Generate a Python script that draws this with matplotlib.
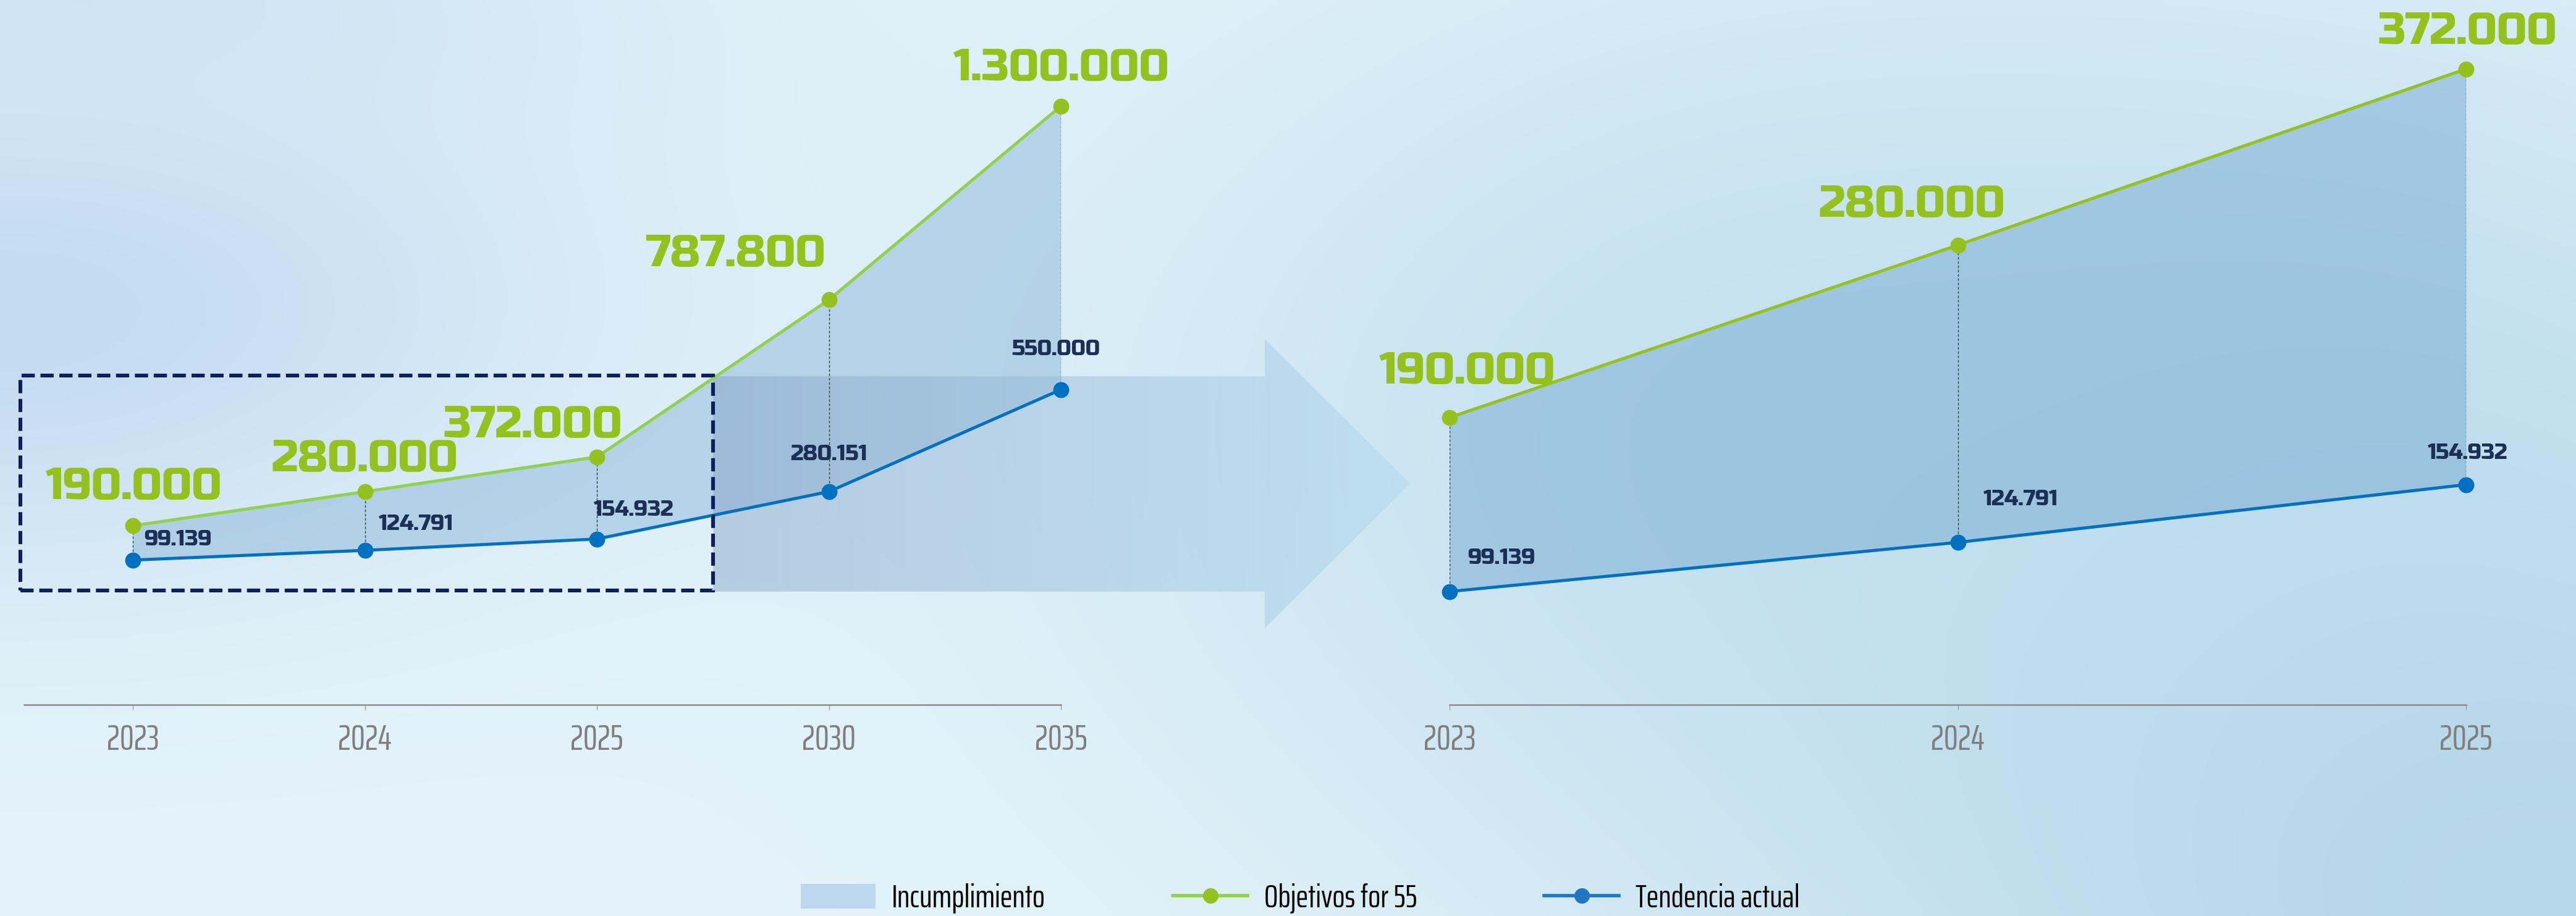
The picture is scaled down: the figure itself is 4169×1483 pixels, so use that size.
import numpy as np
import matplotlib
matplotlib.use("Agg")
import matplotlib.pyplot as plt
from matplotlib.patches import Polygon, Rectangle, Patch
from matplotlib.lines import Line2D


# datos: vista completa y detalle 2023-2025
years_full = ["2023", "2024", "2025", "2030", "2035"]
objetivos_full = [190000, 280000, 372000, 787800, 1300000]
tendencia_full = [99139, 124791, 154932, 280151, 550000]

years_zoom = ["2023", "2024", "2025"]
objetivos_zoom = [190000, 280000, 372000]
tendencia_zoom = [99139, 124791, 154932]

legend_labels = ["Incumplimiento", "Objetivos for 55", "Tendencia actual"]

# label offsets in points (dx, dy) and alignment
green_off_full = [(0, 15.5), (0, 12), (-37.4, 11.5), (-54.4, 19.4), (0, 15)]
blue_off_full = [(6.5, 8.5, "left"), (8, 12, "left"), (-1.8, 13.7, "left"),
                 (0, 18.5, "center"), (-3, 20, "center")]
green_off_zoom = [(10, 19.8), (-26.6, 16.5), (1, 14.8)]
blue_off_zoom = [(10.4, 16.2, "left"), (15, 21.6, "left"), (1, 15, "center")]

GREEN = "#95c11f"
GREEN_LIGHT = "#92d050"
BLUE = "#0070c0"
NAVY = "#1c2f55"
FILL = "#79abd2"
AXIS_GRAY = "#8c8c8c"
NARROW = ["Saira ExtraCondensed", "DejaVu Sans"]
DISPLAY = ["Russo One", "DejaVu Sans"]
W, H, DPI = 4169, 1483, 200


def fmt(v):
    return f"{v:,}".replace(",", ".")


def background(fig):
    bg = fig.add_axes([0, 0, 1, 1], zorder=-10)
    nx, ny = 420, 150
    xx, yy = np.meshgrid(np.linspace(0, 1, nx), np.linspace(0, 1, ny))
    img = np.ones((ny, nx, 3)) * np.array([229, 244, 250]) / 255
    blobs = [
        ((0.0, 0.33), (0.16, 0.22), (196, 219, 240)),
        ((0.03, 0.0), (0.15, 0.12), (208, 228, 244)),
        ((0.68, 0.45), (0.18, 0.35), (200, 227, 241)),
        ((0.9, 0.55), (0.2, 0.4), (196, 225, 239)),
        ((1.0, 1.0), (0.2, 0.35), (182, 215, 233)),
    ]
    for (cx, cy), (sx, sy), col in blobs:
        w = np.exp(-((xx - cx) ** 2 / (2 * sx ** 2) + (yy - cy) ** 2 / (2 * sy ** 2)))
        img = img * (1 - w[..., None]) + np.array(col) / 255 * w[..., None]
    bg.imshow(img, aspect="auto", extent=(0, 1, 1, 0), interpolation="bilinear")
    bg.set_xlim(0, 1)
    bg.set_ylim(1, 0)
    bg.axis("off")


def style_axis(ax, labels):
    for s in ["top", "left", "right"]:
        ax.spines[s].set_visible(False)
    ax.spines["bottom"].set_color(AXIS_GRAY)
    ax.spines["bottom"].set_linewidth(0.9)
    ax.set_yticks([])
    ax.set_xticks(np.arange(len(labels)), labels)
    ax.tick_params(axis="x", length=2.9, width=0.4, color=AXIS_GRAY, pad=8,
                   labelsize=21, labelcolor="#7f7f7f")
    for t in ax.get_xticklabels():
        t.set_family(NARROW)
    ax.patch.set_alpha(0)


def draw_series(ax, obj, ten, green_line, fill_alpha, g_off, b_off):
    x = np.arange(len(obj))
    ax.fill_between(x, ten, obj, color=FILL, alpha=fill_alpha, lw=0, zorder=1)
    ax.vlines(x, ten, obj, colors="#2f4a35", lw=0.5, linestyles=(0, (3, 2)), zorder=2)
    ax.plot(x, obj, color=green_line, lw=1.8, marker="o", ms=8.3,
            mfc=GREEN, mec=GREEN, zorder=3, clip_on=False)
    ax.plot(x, ten, color=BLUE, lw=1.8, marker="o", ms=8.3,
            mfc=BLUE, mec=BLUE, zorder=3, clip_on=False)
    for xi, v, (dx, dy) in zip(x, obj, g_off):
        ax.annotate(fmt(v), (xi, v), xytext=(dx, dy), textcoords="offset points",
                    ha="center", va="baseline", fontsize=26, family=DISPLAY,
                    color=GREEN, zorder=4)
    for xi, v, (dx, dy, ha) in zip(x, ten, b_off):
        ax.annotate(fmt(v), (xi, v), xytext=(dx, dy), textcoords="offset points",
                    ha=ha, va="baseline", fontsize=12.5, family=DISPLAY,
                    color=NAVY, zorder=4)


fig = plt.figure(figsize=(W / DPI, H / DPI), dpi=DPI)
background(fig)

ax1 = fig.add_axes([39 / W, 1 - 1141 / H, 1678 / W, 1141 / H])
ax2 = fig.add_axes([2346 / W, 1 - 1141 / H, 1645 / W, 1141 / H])

draw_series(ax1, objetivos_full, tendencia_full, GREEN_LIGHT, 0.4,
            green_off_full, blue_off_full)
draw_series(ax2, objetivos_zoom, tendencia_zoom, GREEN, 0.5,
            green_off_zoom, blue_off_zoom)

# flecha de ampliación (decorativa) con degradado
arrow_pts = [(2.5, 585600), (4.879, 585600), (4.879, 683700), (5.505, 301300),
             (4.879, -81000), (4.879, 15800), (2.5, 15800)]
arrow = Polygon(arrow_pts, closed=True, transform=ax1.transData)
grad = np.zeros((2, 256, 4))
t = np.linspace(0, 1, 256)
left_c = np.array([130, 160, 195]) / 255
right_c = np.array([175, 215, 240]) / 255
grad[..., :3] = left_c * (1 - t[:, None]) + right_c * t[:, None]
grad[..., 3] = 0.45 + 0.05 * t
im = ax1.imshow(grad, extent=(2.5, 5.505, -81000, 683700), aspect="auto",
                interpolation="bilinear", zorder=1.5)
im.set_clip_path(arrow)
im.set_clip_box(fig.bbox)

# recuadro discontinuo sobre 2023-2025
box = Rectangle((-0.487, 18600), 2.987, 568400, fill=False, ec="#0b1f5c",
                lw=2.2, ls=(0, (3.5, 1.5)), zorder=5, clip_on=False)
ax1.add_patch(box)

ax1.set_xlim(-0.47, 4)
ax1.set_ylim(-283700, 1580700)
ax2.set_xlim(0, 2)
ax2.set_ylim(40000, 408000)
style_axis(ax1, years_full)
style_axis(ax2, years_zoom)

handles = [
    Patch(facecolor="#bdd7ee", edgecolor="none"),
    Line2D([], [], color=GREEN_LIGHT, lw=2, marker="o", ms=8, mfc=GREEN, mec=GREEN),
    Line2D([], [], color="#1f77c4", lw=2, marker="o", ms=8, mfc="#1f77c4", mec="#1f77c4"),
]
fig.legend(handles, legend_labels, loc="center", bbox_to_anchor=(0.5047, 0.019),
           ncol=3, frameon=False, prop=dict(family=NARROW, size=19),
           handlelength=2.3, handleheight=0.8, handletextpad=0.5,
           columnspacing=3.9, labelcolor="black")

fig.savefig("out.png", dpi=DPI)
